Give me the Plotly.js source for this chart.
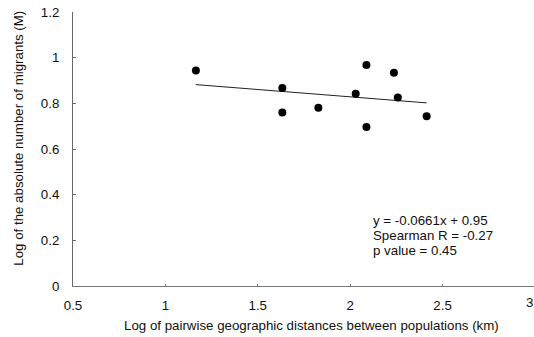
<!DOCTYPE html>
<html>
<head>
<meta charset="utf-8">
<script src="https://cdn.plot.ly/plotly-3.0.1.min.js"></script>
<style>html,body{margin:0;padding:0;background:#fff;}#chart{width:534px;height:337px;}</style>
</head>
<body>
<div id="chart"></div>
<script>
// Data
var distLog = [1.165, 1.633, 1.633, 1.828, 2.03, 2.088, 2.088, 2.237, 2.258, 2.414];
var migrantsLog = [0.944, 0.867, 0.760, 0.781, 0.842, 0.968, 0.696, 0.934, 0.826, 0.743];
var trendX = [1.165, 2.414];
var trendY = [0.882, 0.802];
var xTicks = [0.5, 1, 1.5, 2, 2.5];
var xTickLabels = ['0.5', '1', '1.5', '2', '2.5'];
var xEdgeLabel = '3';
var yTicks = [0, 0.2, 0.4, 0.6, 0.8, 1, 1.2];
var yTickLabels = ['0', '0.2', '0.4', '0.6', '0.8', '1', '1.2'];
var statsLines = ['y = -0.0661x + 0.95', 'Spearman R = -0.27', 'p value = 0.45'];

var font = 'Liberation Sans, Arial, sans-serif';
var fs = 13.3;

var traces = [
  {
    x: trendX, y: trendY, type: 'scatter', mode: 'lines',
    line: {color: '#222', width: 1}, hoverinfo: 'skip', showlegend: false
  },
  {
    x: distLog, y: migrantsLog, type: 'scatter', mode: 'markers',
    marker: {color: '#000', size: 8}, showlegend: false
  }
];

var statsY = [0.239, 0.184, 0.130];
var annotations = [
  {
    xref: 'paper', yref: 'paper', x: 0.99, y: -0.06, xanchor: 'center', yanchor: 'middle',
    text: xEdgeLabel, showarrow: false, font: {family: font, size: fs, color: '#111'}
  },
  {
    xref: 'paper', yref: 'paper', x: 0.517, y: -0.144, yanchor: 'middle', xanchor: 'center',
    text: 'Log of pairwise geographic distances between populations (km)',
    showarrow: false, font: {family: font, size: fs, color: '#111'}
  },
  {
    xref: 'paper', yref: 'paper', x: -0.119, y: 0.538, xanchor: 'center', yanchor: 'middle',
    textangle: -90, text: 'Log of the absolute number of migrants (M)',
    showarrow: false, font: {family: font, size: fs, color: '#111'}
  }
];
statsLines.forEach(function (t, i) {
  annotations.push({
    xref: 'paper', yref: 'paper', x: 0.647, y: statsY[i], xanchor: 'left', yanchor: 'middle',
    align: 'left', text: t, showarrow: false, font: {family: font, size: fs, color: '#111'}
  });
});

var layout = {
  width: 534, height: 337,
  margin: {l: 73, r: 0, t: 12, b: 51, pad: 0},
  paper_bgcolor: '#fff', plot_bgcolor: '#fff',
  font: {family: font, size: fs, color: '#111'},
  xaxis: {
    range: [0.5, 2.995], tickvals: xTicks, ticktext: xTickLabels,
    showgrid: false, zeroline: false, showline: true, linecolor: '#777', linewidth: 1,
    ticks: 'inside', ticklen: 2, tickcolor: '#777',
    ticklabelstandoff: 7, tickfont: {family: font, size: fs, color: '#111'}
  },
  yaxis: {
    range: [0, 1.2], tickvals: yTicks, ticktext: yTickLabels,
    showgrid: false, zeroline: false, showline: true, linecolor: '#666', linewidth: 1,
    ticks: 'inside', ticklen: 3, tickcolor: '#666',
    ticklabelstandoff: 10, tickfont: {family: font, size: fs, color: '#111'}
  },
  annotations: annotations
};

Plotly.newPlot('chart', traces, layout, {staticPlot: true, displayModeBar: false});
</script>
</body>
</html>
